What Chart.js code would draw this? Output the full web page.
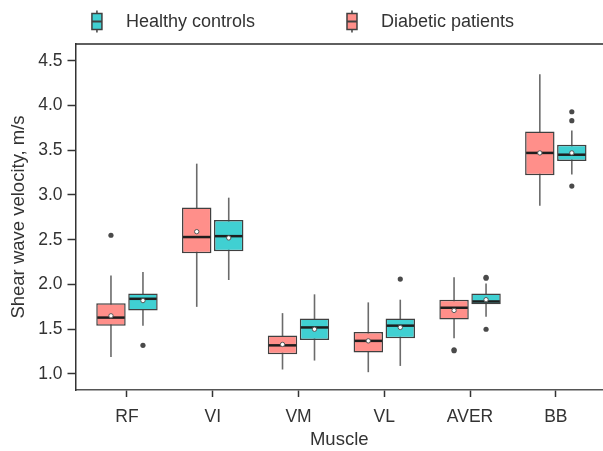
<!DOCTYPE html>
<html>
<head>
<meta charset="utf-8">
<script src="https://cdn.jsdelivr.net/npm/chart.js@4.4.1/dist/chart.umd.min.js"></script>
<style>
    html, body { margin: 0; padding: 0; background: #fff; overflow: hidden; }
    #wrap { width: 603px; height: 451px; }
</style>
</head>
<body>
<div id="wrap"><canvas id="boxChart" width="603" height="451"></canvas></div>
<script>
// data (m/s)
const categories = ['RF', 'VI', 'VM', 'VL', 'AVER', 'BB'];
const yTickValues = [1.0, 1.5, 2.0, 2.5, 3.0, 3.5, 4.0, 4.5];

const diabeticLow = [1.19, 1.75, 1.05, 1.02, 1.40, 2.88];
const diabeticQ1 = [1.54, 2.35, 1.22, 1.24, 1.61, 3.22];
const diabeticMedian = [1.63, 2.53, 1.32, 1.37, 1.74, 3.47];
const diabeticQ3 = [1.79, 2.86, 1.43, 1.47, 1.83, 3.71];
const diabeticHigh = [2.10, 3.35, 1.68, 1.80, 2.08, 4.35];
const diabeticMean = [1.65, 2.59, 1.33, 1.37, 1.71, 3.47];
const diabeticOutliers = [[2.55], [], [], [], [1.26, 1.27], []];

const healthyLow = [1.54, 2.05, 1.15, 1.09, 1.64, 3.23];
const healthyQ1 = [1.71, 2.37, 1.38, 1.40, 1.78, 3.38];
const healthyMedian = [1.84, 2.54, 1.52, 1.54, 1.81, 3.45];
const healthyQ3 = [1.90, 2.72, 1.62, 1.62, 1.90, 3.56];
const healthyHigh = [2.14, 2.97, 1.89, 1.83, 2.01, 3.72];
const healthyMean = [1.82, 2.52, 1.50, 1.52, 1.83, 3.47];
const healthyOutliers = [[1.32], [], [], [2.06], [2.07, 2.08, 1.50], [3.93, 3.83, 3.10]];

const PINK = '#ff8f8a';
const TEAL = '#40d0d2';
const EDGE = '#404040';
const TEXT = '#333333';
const FONT = "'Liberation Sans', Arial, Helvetica, sans-serif";

// extra box stats per dataset, used by the plugin below
const boxStats = [
    { low: diabeticLow, median: diabeticMedian, high: diabeticHigh, mean: diabeticMean, outliers: diabeticOutliers },
    { low: healthyLow, median: healthyMedian, high: healthyHigh, mean: healthyMean, outliers: healthyOutliers }
];

// legend order differs from drawing order (Healthy first)
const legendItems = [
    { text: 'Healthy controls', color: TEAL },
    { text: 'Diabetic patients', color: PINK }
];

const drawIcon = (ctx, cx, cy, color) => {
    ctx.save();
    ctx.strokeStyle = EDGE;
    ctx.lineWidth = 1.5;
    ctx.beginPath();
    ctx.moveTo(cx, cy - 11);
    ctx.lineTo(cx, cy + 11);
    ctx.stroke();
    ctx.fillStyle = color;
    ctx.fillRect(cx - 5, cy - 8, 10, 16);
    ctx.strokeRect(cx - 5, cy - 8, 10, 16);
    ctx.lineWidth = 2;
    ctx.beginPath();
    ctx.moveTo(cx - 5, cy);
    ctx.lineTo(cx + 5, cy);
    ctx.stroke();
    ctx.restore();
};

const boxPlotPlugin = {
    id: 'boxPlotExtras',
    beforeDatasetsDraw(chart) {
        const ctx = chart.ctx;
        const y = chart.scales.y;
        ctx.save();
        ctx.strokeStyle = '#6b6b6b';
        ctx.lineWidth = 1.6;
        boxStats.forEach((s, d) => {
            const meta = chart.getDatasetMeta(d);
            meta.data.forEach((bar, i) => {
                ctx.beginPath();
                ctx.moveTo(bar.x, y.getPixelForValue(s.low[i]));
                ctx.lineTo(bar.x, y.getPixelForValue(s.high[i]));
                ctx.stroke();
            });
        });
        ctx.restore();
    },
    afterDatasetsDraw(chart) {
        const ctx = chart.ctx;
        const y = chart.scales.y;
        ctx.save();
        boxStats.forEach((s, d) => {
            const meta = chart.getDatasetMeta(d);
            meta.data.forEach((bar, i) => {
                const half = bar.width / 2;
                // median
                ctx.strokeStyle = '#1e1e1e';
                ctx.lineWidth = 2.5;
                ctx.beginPath();
                const my = y.getPixelForValue(s.median[i]);
                ctx.moveTo(bar.x - half + 1, my);
                ctx.lineTo(bar.x + half - 1, my);
                ctx.stroke();
                // mean
                ctx.fillStyle = '#ffffff';
                ctx.strokeStyle = '#555555';
                ctx.lineWidth = 1;
                ctx.beginPath();
                ctx.arc(bar.x, y.getPixelForValue(s.mean[i]), 2.2, 0, Math.PI * 2);
                ctx.fill();
                ctx.stroke();
                // outliers
                ctx.fillStyle = '#4a4a4a';
                s.outliers[i].forEach((v) => {
                    ctx.beginPath();
                    ctx.arc(bar.x, y.getPixelForValue(v), 2.6, 0, Math.PI * 2);
                    ctx.fill();
                });
            });
        });
        ctx.restore();
    },
    afterDraw(chart) {
        const ctx = chart.ctx;
        const area = chart.chartArea;
        ctx.save();
        // top frame line
        ctx.strokeStyle = '#2a2a2a';
        ctx.lineWidth = 1.7;
        ctx.beginPath();
        ctx.moveTo(area.left, area.top);
        ctx.lineTo(chart.width, area.top);
        ctx.stroke();

        // legend
        ctx.font = '18px ' + FONT;
        ctx.fillStyle = TEXT;
        ctx.textBaseline = 'middle';
        const iconGap = 29;
        const itemGap = 97;
        const widths = legendItems.map((it) => iconGap + ctx.measureText(it.text).width);
        const total = widths.reduce((a, b) => a + b, 0) + itemGap * (legendItems.length - 1);
        let x = (chart.width - total) / 2 + 4;
        const cy = 21.5;
        legendItems.forEach((it, k) => {
            drawIcon(ctx, x, cy, it.color);
            ctx.fillText(it.text, x + iconGap, cy + 0.5);
            x += widths[k] + itemGap;
        });
        ctx.restore();
    }
};

const toFloating = (lo, hi) => lo.map((v, i) => ({ x: i, y: [v, hi[i]] }));

const ctx = document.getElementById('boxChart').getContext('2d');
const boxChart = new Chart(ctx, {
    type: 'bar',
    data: {
        datasets: [
            {
                label: 'Diabetic patients',
                data: toFloating(diabeticQ1, diabeticQ3),
                backgroundColor: PINK,
                borderColor: EDGE,
                borderWidth: 1.5,
                borderSkipped: false
            },
            {
                label: 'Healthy controls',
                data: toFloating(healthyQ1, healthyQ3),
                backgroundColor: TEAL,
                borderColor: EDGE,
                borderWidth: 1.5,
                borderSkipped: false
            }
        ]
    },
    options: {
        responsive: false,
        animation: false,
        events: [],
        categoryPercentage: 0.746,
        barPercentage: 0.92,
        layout: { padding: { top: 44, left: 0, right: 0, bottom: 0 } },
        plugins: {
            legend: { display: false },
            tooltip: { enabled: false }
        },
        scales: {
            x: {
                type: 'linear',
                min: -0.6,
                max: 5.55,
                offset: false,
                grid: { offset: false, drawOnChartArea: false, drawTicks: true, tickLength: 7, tickColor: '#333', tickWidth: 1.5 },
                border: { display: true, color: '#555', width: 1.5 },
                afterBuildTicks: (axis) => { axis.ticks = categories.map((c, i) => ({ value: i })); },
                afterFit: (axis) => { axis.height = 61; },
                ticks: {
                    autoSkip: false,
                    maxRotation: 0,
                    padding: 10,
                    color: TEXT,
                    font: { family: FONT, size: 17.5 },
                    callback: (v) => categories[v]
                },
                title: {
                    display: true,
                    text: 'Muscle',
                    color: TEXT,
                    font: { family: FONT, size: 18.5 },
                    padding: { top: 0, bottom: 0 }
                }
            },
            y: {
                min: 0.821,
                max: 4.687,
                grid: { drawOnChartArea: false, drawTicks: true, tickLength: 8, tickColor: '#333', tickWidth: 1.5 },
                border: { display: true, color: '#333', width: 1.5 },
                afterBuildTicks: (axis) => { axis.ticks = yTickValues.map((v) => ({ value: v })); },
                afterFit: (axis) => { axis.width = 75.5; },
                ticks: {
                    padding: 5,
                    color: TEXT,
                    font: { family: FONT, size: 17.5 },
                    callback: (v) => v.toFixed(1)
                },
                title: {
                    display: true,
                    text: 'Shear wave velocity, m/s',
                    color: TEXT,
                    font: { family: FONT, size: 18.5 },
                    padding: { top: 8, bottom: 2 }
                }
            }
        }
    },
    plugins: [boxPlotPlugin]
});
</script>
</body>
</html>
